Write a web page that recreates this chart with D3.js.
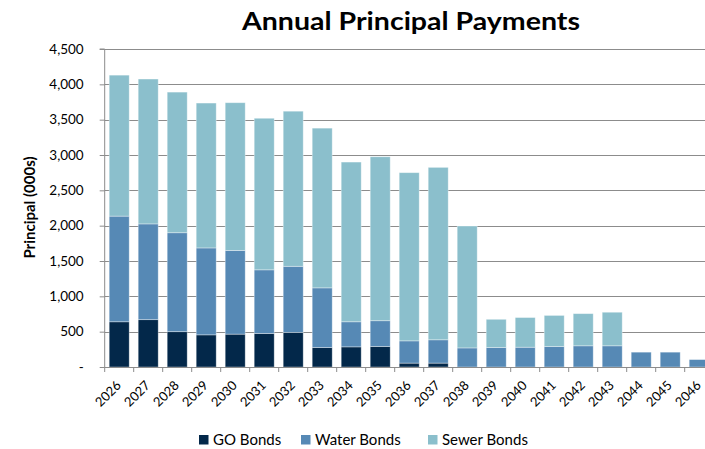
<!DOCTYPE html>
<html>
<head>
<meta charset="utf-8">
<script src="https://cdn.jsdelivr.net/npm/d3@7"></script>
<style>
  html, body { margin: 0; padding: 0; background: #fff; }
  svg { display: block; font-family: Lato, "Open Sans", sans-serif; }
</style>
</head>
<body>
<svg id="chart" width="705" height="449"></svg>
<script>
const years = ["2026","2027","2028","2029","2030","2031","2032","2033","2034","2035","2036","2037","2038","2039","2040","2041","2042","2043","2044","2045","2046"];
const goBonds    = [640, 670, 500, 455, 465, 475, 490, 275, 285, 290, 55, 55, 0, 0, 0, 0, 0, 0, 0, 0, 0];
const waterBonds = [1495, 1355, 1400, 1230, 1185, 900, 935, 845, 355, 365, 315, 330, 270, 275, 280, 290, 300, 300, 210, 210, 105];
const sewerBonds = [1995, 2050, 1990, 2050, 2090, 2145, 2195, 2260, 2260, 2320, 2380, 2440, 1725, 400, 420, 440, 455, 475, 0, 0, 0];
const seriesNames = ["GO Bonds", "Water Bonds", "Sewer Bonds"];
const seriesColors = ["#03284a", "#5689b5", "#8bbfcc"];
const yTicks = [0, 500, 1000, 1500, 2000, 2500, 3000, 3500, 4000, 4500];

const svg = d3.select("#chart");
const plotLeft = 104.7, plotRight = 713.7, plotTop = 49, plotBottom = 367;

const x = d3.scaleBand().domain(years).range([plotLeft, plotRight]).paddingInner(0.31).paddingOuter(0.155);
const y = d3.scaleLinear().domain([0, 4500]).range([plotBottom, plotTop]);

const rows = years.map((yr, i) => ({year: yr, "GO Bonds": goBonds[i], "Water Bonds": waterBonds[i], "Sewer Bonds": sewerBonds[i]}));
const stacked = d3.stack().keys(seriesNames)(rows);

// gridlines
svg.append("g").selectAll("line").data(yTicks.filter(d => d > 0)).join("line")
  .attr("x1", plotLeft).attr("x2", 705)
  .attr("y1", d => Math.round(y(d)) + 0.5).attr("y2", d => Math.round(y(d)) + 0.5)
  .attr("stroke", "#8c8c8c").attr("stroke-width", 1);

// bars
svg.append("g").selectAll("g").data(stacked).join("g")
  .attr("fill", (d, i) => seriesColors[i])
  .selectAll("rect").data(d => d.filter(s => s[1] - s[0] > 0)).join("rect")
  .attr("x", d => x(d.data.year))
  .attr("width", x.bandwidth())
  .attr("y", d => y(d[1]))
  .attr("height", d => y(d[0]) - y(d[1]))
  .attr("stroke", "rgba(255,255,255,0.45)")
  .attr("stroke-width", 0.8);

// y axis
const yAxis = d3.axisLeft(y).tickValues(yTicks).tickSize(5).tickPadding(16)
  .tickFormat(d => d === 0 ? "-" : d3.format(",")(d));
const gy = svg.append("g").attr("transform", `translate(${plotLeft},0)`).call(yAxis);
gy.select(".domain").attr("stroke", "#8c8c8c").attr("d", `M-5,${plotTop}H0V${plotBottom}`);
gy.selectAll(".tick line").attr("stroke", "#8c8c8c");
gy.selectAll(".tick text").attr("font-size", 13.5).attr("fill", "#000").attr("font-family", "Lato, sans-serif");

// x axis baseline and ticks
svg.append("line").attr("x1", plotLeft).attr("x2", 705).attr("y1", plotBottom + 0.5).attr("y2", plotBottom + 0.5)
  .attr("stroke", "#8c8c8c");
const step = x.step();
svg.append("g").selectAll("line").data(d3.range(years.length + 1)).join("line")
  .attr("x1", i => plotLeft + i * step).attr("x2", i => plotLeft + i * step)
  .attr("y1", plotBottom).attr("y2", plotBottom + 5)
  .attr("stroke", "#8c8c8c");

svg.append("g").selectAll("text").data(years).join("text")
  .attr("transform", d => `translate(${x(d) + x.bandwidth() / 2 - 0.5},${plotBottom + 16}) rotate(-45)`)
  .attr("text-anchor", "end")
  .attr("dy", "0.35em")
  .attr("font-size", 13)
  .attr("fill", "#000")
  .text(d => d);

// y axis title
svg.append("text")
  .attr("transform", `translate(34.5,207.5) rotate(-90)`)
  .attr("text-anchor", "middle")
  .attr("font-size", 15)
  .attr("font-weight", "bold")
  .attr("fill", "#000")
  .text("Principal (000s)");

// title
svg.append("text")
  .attr("x", 411).attr("y", 29.5)
  .attr("text-anchor", "middle")
  .attr("font-size", 24)
  .attr("font-weight", "bold")
  .attr("fill", "#000")
  .attr("textLength", 338)
  .attr("lengthAdjust", "spacingAndGlyphs")
  .text("Annual Principal Payments");

// legend
const legendX = [199, 301, 428];
const lg = svg.append("g").selectAll("g").data(seriesNames).join("g")
  .attr("transform", (d, i) => `translate(${legendX[i]},435)`);
lg.append("rect").attr("width", 9.5).attr("height", 9.5).attr("fill", (d, i) => seriesColors[i]);
lg.append("text").attr("x", 14).attr("y", 10).attr("font-size", 15).attr("fill", "#000").text(d => d);
</script>
</body>
</html>
